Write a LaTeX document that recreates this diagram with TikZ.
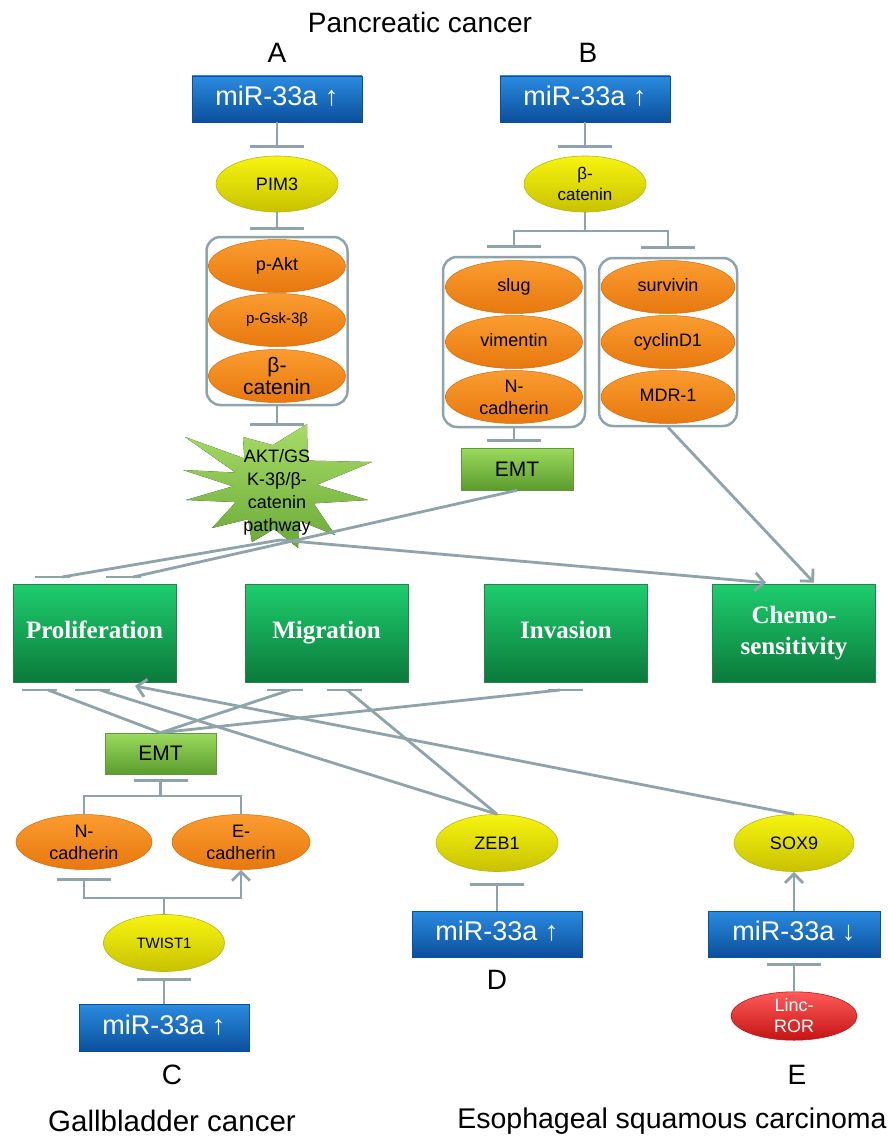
\documentclass[tikz,border=0pt]{standalone}
\usepackage{fontspec}
\setmainfont{Liberation Sans}
\newfontfamily\serifb{Liberation Serif}
\usetikzlibrary{arrows.meta,shapes.geometric,calc}
\definecolor{lc}{HTML}{8FA3AA}
\definecolor{blueT}{HTML}{2A8BE0}
\definecolor{blueB}{HTML}{0B4F9C}
\definecolor{yelT}{HTML}{F7F410}
\definecolor{yelB}{HTML}{C8C200}
\definecolor{orT}{HTML}{FB9C30}
\definecolor{orB}{HTML}{E7780E}
\definecolor{grT}{HTML}{1ECD6E}
\definecolor{grB}{HTML}{0B7A3B}
\definecolor{emtT}{HTML}{9ADA5C}
\definecolor{emtB}{HTML}{5C9C2F}
\definecolor{sbT}{HTML}{A8DC66}
\definecolor{sbB}{HTML}{6AAA38}
\definecolor{redT}{HTML}{FF5A5A}
\definecolor{redB}{HTML}{C41414}
\begin{document}
\begin{tikzpicture}[x=1pt,y=-1pt,
  conn/.style={draw=lc, line width=2.8pt},
  inh/.style={conn, -{Bar[width=54pt,line width=2.8pt]}},
  arr/.style={conn, -{Straight Barb[length=9pt,width=18pt,line width=2.8pt]}},
  mirbox/.style={rectangle, minimum width=170pt, minimum height=46pt, inner sep=0pt,
    top color=blueT, bottom color=blueB, draw=blueB, line width=0.6pt,
    text=white, font=\fontsize{27}{30}\selectfont, text height=19pt, text depth=6pt},
  yel/.style={ellipse, minimum width=122pt, minimum height=56pt, inner sep=0pt,
    top color=yelT, bottom color=yelB, draw=yelB!80!gray, line width=0.6pt,
    align=center, font=\fontsize{18}{22}\selectfont},
  ora/.style={ellipse, minimum width=137pt, minimum height=53pt, inner sep=0pt,
    top color=orT, bottom color=orB, draw=orB!90!black, line width=0.5pt,
    align=center, font=\fontsize{18}{22}\selectfont},
  one/.style={text height=13pt, text depth=4pt},
  cont/.style={rectangle, draw=lc, line width=2.5pt, rounded corners=14pt},
  outbox/.style={rectangle, minimum width=163pt, minimum height=98pt, inner sep=0pt,
    top color=grT, bottom color=grB, draw=grB!70!gray, line width=0.6pt,
    text=white, align=center, font=\serifb\bfseries\fontsize{25}{31}\selectfont},
  single/.style={text height=17pt, text depth=6pt},
  emtbox/.style={rectangle, minimum width=112pt, minimum height=42pt, inner sep=0pt,
    top color=emtT, bottom color=emtB, draw=emtB!80!gray, line width=0.6pt,
    font=\fontsize{21}{24}\selectfont},
  lbl/.style={font=\fontsize{28}{32}\selectfont, inner sep=0pt},
  redel/.style={ellipse, minimum width=126pt, minimum height=48pt, inner sep=0pt,
    top color=redT, bottom color=redB, draw=redB, line width=0.6pt,
    text=white, align=center, font=\fontsize{18}{21}\selectfont}
]
\useasboundingbox (0,0) rectangle (887,1137);
\fill[white] (0,0) rectangle (887,1137);

% ---------- titles ----------
\node[lbl] (title) at (420,22) {Pancreatic cancer};
\node[lbl] (labA) at (277,53) {A};
\node[lbl] (labB) at (588,53) {B};

% ---------- column A ----------
\node[mirbox] (mirA) at (277,99) {miR-33a ↑};
\node[yel] (pim) at (277,184) {PIM3};
\node[cont, minimum width=141pt, minimum height=168pt] (contA) at (277,321) {};
\node[ora, one] (pakt) at (277,266) {p-Akt};
\node[ora, font=\fontsize{15}{18}\selectfont] (pgsk) at (277,320) {p-Gsk-3β};
\node[ora, font=\fontsize{21}{24}\selectfont] (bcatA) at (277,376) {β-\\[-2pt]catenin};

\draw[inh, shorten >=8pt] (mirA.south) -- (pim.north);
\draw[inh, shorten >=6pt] (pim.south) -- (contA.north);

% starburst
\fill[top color=sbT, bottom color=sbB]
  (185,437) -- (244.3,458.4) -- (243,437) -- (272.8,445.1) -- (307,424) -- (307.6,460.6)
  -- (372,462) -- (316.9,484.8) -- (368,500) -- (313.7,503.4) -- (335,535) -- (299.7,521)
  -- (298,548) -- (274.3,529) -- (252,542) -- (248,519.2) -- (212,528) -- (235.8,502.1)
  -- (186,500) -- (233,486.3) -- (183,470) -- (235.5,472.6) -- cycle;
\node[align=center, font=\fontsize{18}{23}\selectfont, inner sep=0pt] (sb) at (277,492)
  {AKT/GS\\K-3β/β-\\catenin\\pathway};
\coordinate (sbtop) at (277,432);
\coordinate (sbbot) at (280,540);
\draw[inh, shorten >=6pt] (contA.south) -- (sbtop);

% ---------- column B ----------
\node[mirbox] (mirB) at (585,99) {miR-33a ↑};
\node[yel, font=\fontsize{17}{21}\selectfont] (bcatB) at (585,184) {β-\\catenin};
\node[cont, minimum width=142pt, minimum height=170pt] (contBL) at (514,342) {};
\node[cont, minimum width=138pt, minimum height=168pt] (contBR) at (668,342) {};
\node[ora, one] (slug) at (514,287) {slug};
\node[ora, one] (vim) at (514,342) {vimentin};
\node[ora] (ncadB) at (514,397) {N-\\cadherin};
\node[ora, one, minimum width=134pt] (surv) at (668,287) {survivin};
\node[ora, one, minimum width=134pt] (cyc) at (668,342) {cyclinD1};
\node[ora, one, minimum width=134pt] (mdr) at (668,397) {MDR-1};
\node[emtbox] (emtB) at (517,469) {EMT};

\draw[inh, shorten >=8pt] (mirB.south) -- (bcatB.north);
\coordinate (brB) at (585,231);
\draw[conn] (bcatB.south) -- (brB);
\draw[inh, shorten >=8pt] (brB) -| (contBL.north);
\draw[inh, shorten >=8pt] (brB) -| (contBR.north);
\draw[inh, shorten >=6pt] (contBL.south) -- (contBL.south |- emtB.north);

% ---------- outcome boxes ----------
\node[outbox, single] (prol) at (94.5,633) {Proliferation};
\node[outbox, single] (migr) at (326.5,633) {Migration};
\node[outbox, single] (inv) at (566,633) {Invasion};
\node[outbox] (chemo) at (794,633) {Chemo-\\sensitivity};

% upper connectors
\coordinate (pb1) at (62,577);
\coordinate (pb2) at (133,577);
\draw[conn] (sbbot) -- (pb1);
\draw[conn] ([xshift=-27pt]pb1) -- ([xshift=8pt]pb1);
\draw[conn] (emtB.south) -- (pb2);
\draw[conn] ([xshift=-27pt]pb2) -- ([xshift=8pt]pb2);
\draw[arr] (sbbot) -- ([xshift=-28pt, yshift=1pt]chemo.north);
\draw[arr] (contBR.south) -- ([xshift=20pt, yshift=1pt]chemo.north);

% ---------- column C ----------
\node[emtbox, minimum width=111pt, minimum height=41pt] (emtC) at (160.5,753.5) {EMT};
\node[ora, minimum width=136pt, minimum height=55pt] (ncadC) at (84,842) {N-\\cadherin};
\node[ora, minimum width=138pt, minimum height=55pt] (ecadC) at (241,842) {E-\\cadherin};
\node[yel, minimum width=121pt, minimum height=57pt, font=\fontsize{15}{18}\selectfont] (twist) at (164,943) {TWIST1};
\node[mirbox, minimum height=47pt] (mirC) at (164,1028) {miR-33a ↑};
\node[lbl] (labC) at (172,1075) {C};
\node[lbl, font=\fontsize{29.5}{33}\selectfont] (gall) at (172,1121) {Gallbladder cancer};

\coordinate (brC) at (160.5,796);
\draw[inh, shorten >=5pt] (brC) -- (emtC.south);
\draw[conn] (ncadC.north) |- (brC) -| (ecadC.north);
\coordinate (brT) at (164,898);
\draw[conn] (twist.north) -- (brT);
\draw[inh, shorten >=8pt] (brT) -| (ncadC.south);
\draw[arr] (brT) -| (ecadC.south);
\draw[inh, shorten >=6pt] (mirC.north) -- (twist.south);

% ---------- column D ----------
\node[yel, minimum width=122pt, minimum height=57pt] (zeb) at (497,843) {ZEB1};
\node[mirbox] (mirD) at (497,934) {miR-33a ↑};
\node[lbl] (labD) at (497,980) {D};
\draw[inh, shorten >=11pt] (mirD.north) -- (zeb.south);

% ---------- column E ----------
\node[yel, minimum width=120pt, minimum height=57pt] (sox) at (794,843) {SOX9};
\node[mirbox, minimum width=172pt] (mirE) at (794,934) {miR-33a ↓};
\node[redel] (linc) at (794,1016) {Linc-\\ROR};
\node[lbl] (labE) at (797,1075) {E};
\node[lbl, font=\fontsize{28.5}{33}\selectfont] (esoph) at (672,1121) {Esophageal squamous carcinoma};
\draw[arr] (mirE.north) -- (sox.south);
\draw[inh, shorten >=6pt] (linc.north) -- (mirE.south);

% lower connectors
\coordinate (qb1) at (48,690);
\coordinate (qb2) at (100,690);
\coordinate (mb1) at (290,690);
\coordinate (mb2) at (347,690);
\coordinate (ib) at (560,690);
\coordinate (parr) at (135,686);
\draw[conn] (emtC.north) -- (qb1);
\draw[conn] (emtC.north) -- (mb1);
\draw[conn] (emtC.north) -- (ib);
\draw[conn] (zeb.north) -- (qb2);
\draw[conn] (zeb.north) -- (mb2);
\draw[arr] (sox.north) -- (parr);
\draw[conn] ([xshift=-26pt]qb1) -- ([xshift=9pt]qb1);
\draw[conn] ([xshift=-25pt]qb2) -- ([xshift=10pt]qb2);
\draw[conn] ([xshift=-23pt]mb1) -- ([xshift=13pt]mb1);
\draw[conn] ([xshift=-20pt]mb2) -- ([xshift=15pt]mb2);
\draw[conn] ([xshift=-12pt]ib) -- ([xshift=23pt]ib);
\end{tikzpicture}
\end{document}
